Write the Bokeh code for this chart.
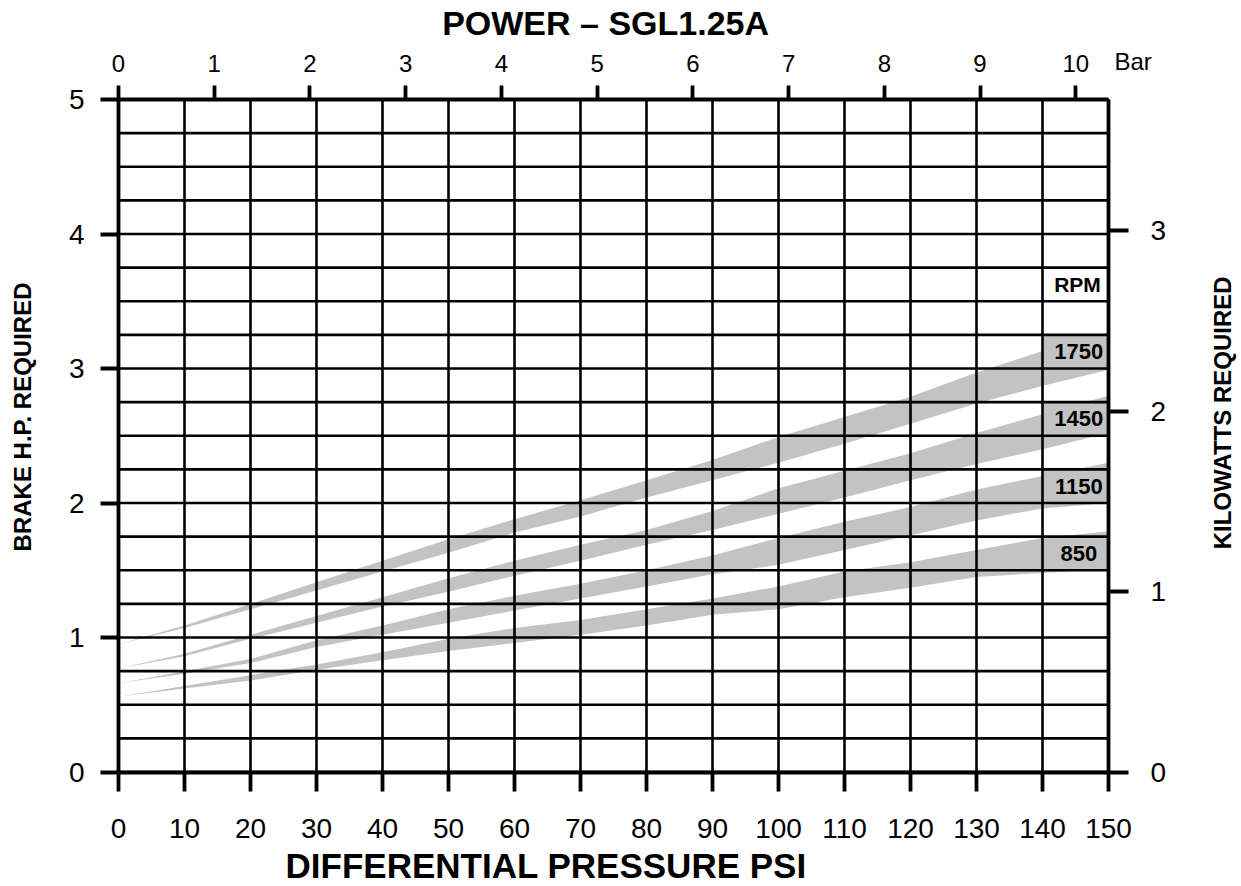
import math
from bokeh.plotting import figure
from bokeh.models import Range1d, LinearAxis, FixedTicker, Label
from bokeh.core.properties import value
from bokeh.embed import file_html
from bokeh.resources import INLINE

# ---------------- data ----------------
psi = [0, 10, 20, 30, 40, 50, 60, 70, 80, 90, 100, 110, 120, 130, 140, 150]

hp_1750_hi = [0.95, 1.09, 1.25, 1.41, 1.57, 1.73, 1.88, 2.02, 2.17, 2.32, 2.49, 2.64, 2.79, 2.97, 3.13, 3.27]
hp_1750_lo = [0.95, 1.07, 1.21, 1.35, 1.49, 1.63, 1.78, 1.90, 2.04, 2.17, 2.30, 2.44, 2.59, 2.74, 2.87, 2.99]
hp_1450_hi = [0.77, 0.88, 1.02, 1.16, 1.30, 1.44, 1.57, 1.69, 1.80, 1.94, 2.11, 2.24, 2.37, 2.52, 2.66, 2.80]
hp_1450_lo = [0.77, 0.86, 0.99, 1.11, 1.23, 1.34, 1.46, 1.57, 1.69, 1.80, 1.92, 2.04, 2.17, 2.29, 2.40, 2.52]
hp_1150_hi = [0.66, 0.75, 0.84, 0.98, 1.09, 1.21, 1.31, 1.40, 1.50, 1.61, 1.74, 1.86, 1.97, 2.10, 2.20, 2.30]
hp_1150_lo = [0.66, 0.73, 0.81, 0.93, 1.02, 1.11, 1.20, 1.29, 1.38, 1.47, 1.54, 1.65, 1.76, 1.87, 1.96, 2.00]
hp_850_hi = [0.56, 0.64, 0.72, 0.80, 0.89, 0.99, 1.07, 1.13, 1.21, 1.29, 1.38, 1.49, 1.56, 1.65, 1.74, 1.79]
hp_850_lo = [0.56, 0.62, 0.68, 0.76, 0.83, 0.90, 0.96, 1.02, 1.09, 1.17, 1.21, 1.30, 1.37, 1.45, 1.48, 1.51]

rpm_labels = ["1750", "1450", "1150", "850"]
rpm_label_hp = [3.125, 2.625, 2.125, 1.625]

psi_ticks = [0, 10, 20, 30, 40, 50, 60, 70, 80, 90, 100, 110, 120, 130, 140, 150]
hp_ticks = [0, 1, 2, 3, 4, 5]
kw_ticks = [0, 1, 2, 3]
bar_ticks = [0, 1, 2, 3, 4, 5, 6, 7, 8, 9, 10]

PSI_PER_BAR = 14.5038
KW_PER_HP = 0.7457
PSI_MAX = 150
HP_MAX = 5

# ---------------- layout / style ----------------
FONT = "Liberation Sans"
BAND = "#c3c3c3"
W, H = 1240, 886
PX_L, PX_R, PX_T, PX_B = 118, 1108, 99, 771.5   # chart area on the canvas
sx = (PX_R - PX_L) / PSI_MAX
sy = (PX_B - PX_T) / HP_MAX
xr = (-PX_L / sx, (W - PX_L) / sx)
yr = (-(H - PX_B) / sy, HP_MAX + PX_T / sy)

p = figure(width=W, height=H, output_backend="svg", toolbar_location=None,
           x_range=Range1d(*xr), y_range=Range1d(*yr),
           x_axis_location=None, y_axis_location=None, min_border=0,
           background_fill_color="white", border_fill_color="white")
p.outline_line_color = None
p.grid.visible = False
p.title.visible = False

p.extra_x_ranges = {"bar": Range1d(xr[0] / PSI_PER_BAR, xr[1] / PSI_PER_BAR)}
p.extra_y_ranges = {"kw": Range1d(yr[0] * KW_PER_HP, yr[1] * KW_PER_HP)}

# bands (under the grid)
bands = [(hp_1750_lo, hp_1750_hi), (hp_1450_lo, hp_1450_hi),
         (hp_1150_lo, hp_1150_hi), (hp_850_lo, hp_850_hi)]
for lo, hi in bands:
    p.varea(x=psi, y1=lo, y2=hi, fill_color=BAND)

# gray cells behind the rpm numbers
grid_hp_step = 0.25
p.quad(left=140, right=PSI_MAX,
       bottom=[v - grid_hp_step / 2 for v in rpm_label_hp],
       top=[v + grid_hp_step / 2 for v in rpm_label_hp],
       fill_color=BAND, line_color=None)

# grid lines
hp_grid = [i * grid_hp_step for i in range(int(HP_MAX / grid_hp_step) + 1)]
p.segment(x0=psi_ticks, y0=[0] * len(psi_ticks), x1=psi_ticks, y1=[HP_MAX] * len(psi_ticks),
          line_color="black", line_width=2.6)
p.segment(x0=[0] * len(hp_grid), y0=hp_grid, x1=[PSI_MAX] * len(hp_grid), y1=hp_grid,
          line_color="black", line_width=2.6)

# axes
def style_axis(ax, size, tick_out, standoff):
    ax.axis_line_color = "black"
    ax.axis_line_width = 3.8
    ax.major_tick_line_color = "black"
    ax.major_tick_line_width = 3.8
    ax.major_tick_out = tick_out
    ax.major_tick_in = 0
    ax.minor_tick_line_color = None
    ax.major_label_text_font = FONT
    ax.major_label_text_font_size = size
    ax.major_label_text_color = "black"
    ax.major_label_standoff = standoff

xb = LinearAxis(ticker=FixedTicker(ticks=psi_ticks), fixed_location=0, bounds=(0, PSI_MAX))
style_axis(xb, "28px", 19, 28)
p.add_layout(xb, "below")

yl = LinearAxis(ticker=FixedTicker(ticks=hp_ticks), fixed_location=0, bounds=(0, HP_MAX))
style_axis(yl, "28px", 18, 16)
p.add_layout(yl, "left")

xt = LinearAxis(x_range_name="bar", ticker=FixedTicker(ticks=bar_ticks),
                fixed_location=HP_MAX, bounds=(0, PSI_MAX / PSI_PER_BAR))
style_axis(xt, "24px", 14, 14)
p.add_layout(xt, "above")

yrgt = LinearAxis(y_range_name="kw", ticker=FixedTicker(ticks=kw_ticks),
                  fixed_location=PSI_MAX, bounds=(0, HP_MAX * KW_PER_HP))
style_axis(yrgt, "28px", 20, 22)
p.add_layout(yrgt, "right")

# rpm labels
p.text(x=[145.5] * len(rpm_labels), y=rpm_label_hp, text=rpm_labels,
       text_font=value(FONT), text_font_style="bold", text_font_size="22px",
       text_align="center", text_baseline="middle", text_color="black")
p.text(x=[145.3], y=[3.625], text=["RPM"],
       text_font=value(FONT), text_font_style="bold", text_font_size="21px",
       text_align="center", text_baseline="middle", text_color="black")

# titles
def lab(x, y, text, size, bold=True, xo=0, yo=0, angle=0, align="center"):
    p.add_layout(Label(x=x, y=y, text=text, x_offset=xo, y_offset=yo, angle=angle,
                       text_font=FONT, text_font_size=size,
                       text_font_style="bold" if bold else "normal",
                       text_align=align, text_baseline="middle", text_color="black"))

lab(73.8, HP_MAX, "POWER \u2013 SGL1.25A", "34px", yo=77)
lab(PSI_MAX, HP_MAX, "Bar", "24px", bold=False, xo=6, yo=38, align="left")
lab(64.8, 0, "DIFFERENTIAL PRESSURE PSI", "35px", yo=-93)
lab(0, 2.64, "BRAKE H.P. REQUIRED", "24px", xo=-96, angle=math.pi / 2)
lab(PSI_MAX, 2.67, "KILOWATTS REQUIRED", "24px", xo=114, angle=math.pi / 2)

open("out.html", "w").write(file_html(p, INLINE))
